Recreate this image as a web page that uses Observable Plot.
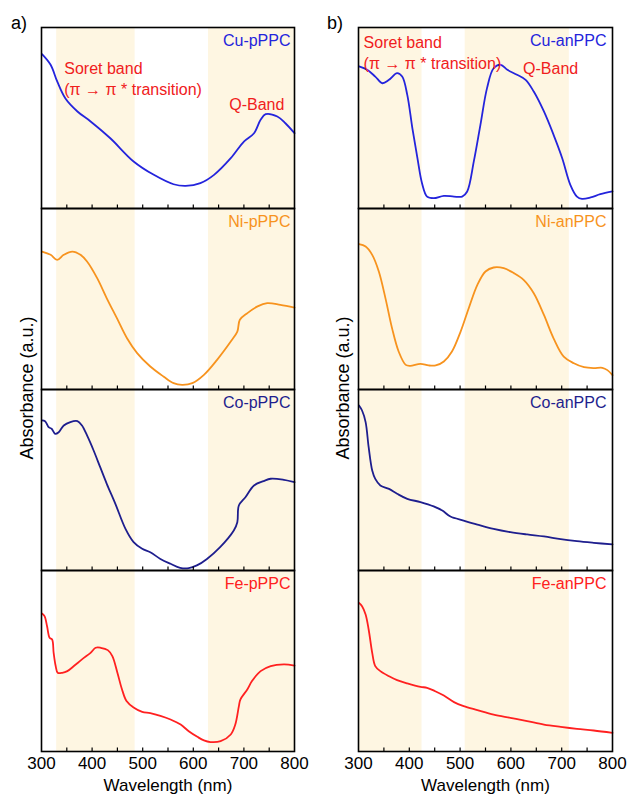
<!DOCTYPE html>
<html><head><meta charset="utf-8">
<script src="https://cdn.jsdelivr.net/npm/d3@7"></script>
<script src="https://cdn.jsdelivr.net/npm/@observablehq/plot@0.6"></script>
<style>
body{margin:0;background:#fff;font-family:Arial,"Liberation Sans",sans-serif;}
#root{position:relative;width:628px;height:795px;overflow:hidden;background:#fff;}
.col{position:absolute;top:0;}
.tag{position:absolute;font-size:18px;line-height:1;color:#000;}
.ylab{position:absolute;font-size:18px;line-height:1;white-space:nowrap;color:#000;transform:translate(-50%,-50%) rotate(-90deg);}
</style></head><body><div id="root"></div>
<script>
// ---------- data (relative absorbance, a.u.) ----------
const samplesP = ["Cu-pPPC", "Ni-pPPC", "Co-pPPC", "Fe-pPPC"];
const samplesA = ["Cu-anPPC", "Ni-anPPC", "Co-anPPC", "Fe-anPPC"];
const sampleColors = ["#2424dc", "#f7931e", "#1e1e8e", "#ff2020"];

const cuP_wl = [301,318,331,347,371,397,436,482,522,561,585,614,641,674,700,720,733,743,766,782,800];
const cuP_ab = [0.853,0.794,0.702,0.609,0.536,0.481,0.388,0.260,0.186,0.134,0.125,0.140,0.186,0.278,0.370,0.416,0.490,0.521,0.508,0.471,0.416];

const niP_wl = [301,318,331,344,361,377,390,410,429,449,469,489,515,541,561,578,598,621,647,674,687,692,707,727,746,772,800];
const niP_ab = [0.762,0.744,0.716,0.744,0.762,0.744,0.707,0.615,0.504,0.394,0.283,0.201,0.127,0.072,0.035,0.026,0.035,0.081,0.164,0.265,0.320,0.385,0.422,0.459,0.477,0.468,0.453];

const coP_wl = [301,307,314,320,327,334,344,357,371,380,390,403,416,429,446,466,482,499,515,535,555,574,591,607,627,653,680,687,690,703,720,739,753,779,800];
const coP_ab = [0.829,0.825,0.792,0.783,0.755,0.764,0.801,0.820,0.825,0.801,0.746,0.663,0.571,0.479,0.368,0.230,0.157,0.120,0.101,0.064,0.037,0.015,0.013,0.028,0.064,0.129,0.221,0.267,0.359,0.405,0.470,0.494,0.507,0.501,0.488];

const feP_wl = [301,306,311,316,321,324,328,332,341,351,364,380,397,407,417,431,440,450,459,468,482,499,515,535,555,575,591,608,621,634,654,674,683,690,693,707,716,733,753,779,800];
const feP_ab = [0.762,0.748,0.692,0.628,0.619,0.545,0.472,0.435,0.435,0.444,0.472,0.509,0.545,0.573,0.573,0.560,0.527,0.435,0.344,0.279,0.243,0.219,0.212,0.197,0.177,0.149,0.112,0.081,0.061,0.052,0.057,0.094,0.149,0.249,0.287,0.344,0.389,0.444,0.472,0.481,0.475];

const cuA_wl = [301,317,333,347,360,376,386,396,406,416,425,435,448,468,488,504,514,527,540,553,566,580,593,612,629,645,665,684,701,717,730,740,757,776,800];
const cuA_ab = [0.785,0.766,0.729,0.692,0.711,0.748,0.729,0.628,0.444,0.278,0.140,0.066,0.057,0.070,0.066,0.066,0.094,0.260,0.462,0.665,0.775,0.794,0.766,0.739,0.711,0.646,0.536,0.407,0.278,0.131,0.066,0.053,0.061,0.079,0.094];

const niA_wl = [301,314,327,340,353,366,379,393,402,422,438,452,468,484,501,517,534,550,566,586,606,625,645,665,684,704,724,744,763,780,790,800];
const niA_ab = [0.803,0.790,0.744,0.652,0.505,0.339,0.210,0.136,0.131,0.142,0.133,0.133,0.155,0.210,0.320,0.449,0.578,0.652,0.674,0.670,0.643,0.606,0.532,0.412,0.283,0.182,0.145,0.123,0.118,0.120,0.107,0.079];

const coA_wl = [301,307,314,320,327,333,343,360,376,396,422,448,465,481,507,534,566,599,632,665,698,730,763,800];
const coA_ab = [0.912,0.884,0.820,0.681,0.552,0.506,0.470,0.451,0.424,0.396,0.378,0.354,0.331,0.298,0.276,0.254,0.230,0.212,0.199,0.188,0.173,0.162,0.153,0.144];

const feA_wl = [301,307,314,320,327,333,343,360,376,396,422,435,451,468,488,507,534,566,599,632,665,698,730,763,800];
const feA_ab = [0.821,0.803,0.757,0.674,0.545,0.472,0.444,0.416,0.394,0.376,0.357,0.352,0.333,0.309,0.273,0.251,0.229,0.204,0.186,0.168,0.149,0.136,0.125,0.116,0.103];

// shaded spectral regions (nm)
const bandsP = [{from: 330, to: 485}, {from: 630, to: 800}];
const bandsA = [{from: 300, to: 425}, {from: 510, to: 715}];

// annotations (wavelength nm, relative absorbance)
const notesP = [
  {sample: "Cu-pPPC", text: "Soret band\n(π → π * transition)", x: 345, y: 0.823, anchor: "start"},
  {sample: "Cu-pPPC", text: "Q-Band", x: 780, y: 0.624, anchor: "end"}
];
const notesA = [
  {sample: "Cu-anPPC", text: "Soret band\n(π → π * transition)", x: 310, y: 0.969, anchor: "start"},
  {sample: "Cu-anPPC", text: "Q-Band", x: 624, y: 0.827, anchor: "start"}
];

const xTickLabels = [300, 400, 500, 600, 700, 800];
const xMinorTicks = [350, 400, 450, 500, 550, 600, 650, 700, 750];

// ---------- build ----------
function tidy(names, wls, abs) {
  return names.flatMap((n, k) => wls[k].map((w, i) => ({sample: n, wl: w, ab: abs[k][i]})));
}
const dataP = tidy(samplesP, [cuP_wl, niP_wl, coP_wl, feP_wl], [cuP_ab, niP_ab, coP_ab, feP_ab]);
const dataA = tidy(samplesA, [cuA_wl, niA_wl, coA_wl, feA_wl], [cuA_ab, niA_ab, coA_ab, feA_ab]);

const FONT = 'Arial, "Liberation Sans", sans-serif';
const PANEL_TOP = 26, PANEL_H = 181.5;

function column(samples, data, bands, notes, ml, mr, labelDx) {
  return Plot.plot({
    width: 314, height: 795,
    marginLeft: ml, marginRight: mr, marginTop: PANEL_TOP, marginBottom: 795 - PANEL_TOP - 4 * PANEL_H,
    style: {fontFamily: FONT, fontSize: "17px", background: "transparent", color: "#000", overflow: "visible"},
    x: {domain: [300, 800]},
    y: {domain: [0, 1], axis: null},
    fy: {domain: samples, axis: null, padding: 0},
    color: {domain: samples, range: sampleColors},
    marks: [
      Plot.rect(bands, {x1: "from", x2: "to", fill: "#fef6e2"}),
      Plot.line(data, {x: "wl", y: "ab", fy: "sample", stroke: "sample", strokeWidth: 1.8, curve: "catmull-rom"}),
      Plot.ruleX(xMinorTicks, {stroke: "#000", strokeWidth: 1.2, insetTop: PANEL_H - 4}),
      Plot.frame({stroke: "#000", strokeWidth: 1.6}),
      Plot.text(samples, {fy: d => d, text: d => d, fill: d => d, frameAnchor: "top-right", lineAnchor: "top", dx: labelDx, dy: 7, fontSize: 16}),
      Plot.text(notes.filter(d => d.anchor === "start"), {x: "x", y: "y", fy: "sample", text: "text", textAnchor: "start", lineAnchor: "top", lineHeight: 1.3, fill: "#f0201c", fontSize: 16}),
      Plot.text(notes.filter(d => d.anchor === "end"), {x: "x", y: "y", fy: "sample", text: "text", textAnchor: "end", lineAnchor: "top", lineHeight: 1.3, fill: "#f0201c", fontSize: 16}),
      Plot.axisX({ticks: xTickLabels, tickSize: 0, tickPadding: 5, fontSize: 17, label: "Wavelength (nm)", labelAnchor: "center", labelArrow: "none", labelOffset: 39})
    ]
  });
}

const root = document.getElementById("root");
const left = column(samplesP, dataP, bandsP, notesP, 41, 20, -4);
left.classList.add("col"); left.style.left = "0px";
const right = column(samplesA, dataA, bandsA, notesA, 44, 16, -6);
right.classList.add("col"); right.style.left = "314px";
root.append(left, right);

function addDiv(cls, text, x, y) {
  const d = document.createElement("div");
  d.className = cls; d.textContent = text;
  d.style.left = x + "px"; d.style.top = y + "px";
  root.append(d);
}
addDiv("tag", "a)", 11, 14);
addDiv("tag", "b)", 327, 14);
addDiv("ylab", "Absorbance (a.u.)", 27, 388);
addDiv("ylab", "Absorbance (a.u.)", 343, 388);
</script>
</body></html>
